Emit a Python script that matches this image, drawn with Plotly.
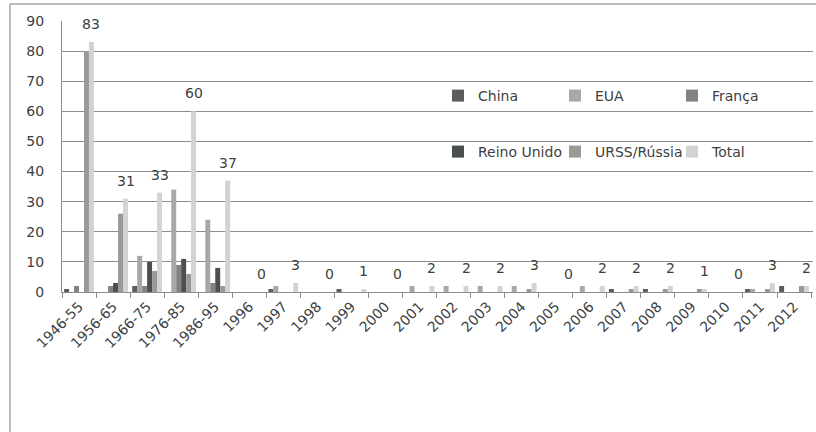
import plotly.graph_objects as go

# Nuclear tests per period / year, by country
categories = ["1946-55", "1956-65", "1966-75", "1976-85", "1986-95",
              "1996", "1997", "1998", "1999", "2000", "2001", "2002", "2003",
              "2004", "2005", "2006", "2007", "2008", "2009", "2010", "2011", "2012"]

china = [1, 0, 2, 0, 0, 0, 1, 0, 1, 0, 0, 0, 0, 0, 0, 0, 1, 1, 0, 0, 1, 2]
eua = [0, 0, 12, 34, 24, 0, 2, 0, 0, 0, 2, 2, 2, 2, 0, 2, 0, 0, 0, 0, 1, 0]
franca = [2, 2, 2, 9, 3, 0, 0, 0, 0, 0, 0, 0, 0, 0, 0, 0, 0, 0, 0, 0, 0, 0]
reino_unido = [0, 3, 10, 11, 8, 0, 0, 0, 0, 0, 0, 0, 0, 0, 0, 0, 0, 0, 0, 0, 0, 0]
urss_russia = [80, 26, 7, 6, 2, 0, 0, 0, 0, 0, 0, 0, 0, 1, 0, 0, 1, 1, 1, 0, 1, 2]
total = [83, 31, 33, 60, 37, 0, 3, 0, 1, 0, 2, 2, 2, 3, 0, 2, 2, 2, 1, 0, 3, 2]

y_ticks = [0, 10, 20, 30, 40, 50, 60, 70, 80, 90]

series = [
    ("China", china, "#5c5c5c", "legend"),
    ("EUA", eua, "#a8a8a8", "legend"),
    ("França", franca, "#828282", "legend"),
    ("Reino Unido", reino_unido, "#4a4f4f", "legend2"),
    ("URSS/Rússia", urss_russia, "#999999", "legend2"),
    ("Total", total, "#d3d3d3", "legend2"),
]

W, H = 816, 432
M_L, M_R, M_T, M_B = 62, 3, 21, 140
PW, PH = W - M_L - M_R, H - M_T - M_B
FONT = "DejaVu Sans"
TXT = "#404040"
GRID = "#8c8c8c"


def px_x(px):
    return (px - M_L) / PW


def px_y(py):
    return (H - M_B - py) / PH


fig = go.Figure()
for name, vals, color, lg in series:
    fig.add_trace(go.Bar(
        x=categories, y=vals, name=name, legend=lg,
        marker=dict(color=color, line=dict(width=0)),
    ))

# value labels above the Total bars (x given as category index)
bargap = 0.125
cat_px = PW / len(categories)
bar_px = cat_px * (1 - bargap) / len(series)
total_shift = bar_px * (len(series) - 1) / 2
for i, v in enumerate(total):
    fig.add_annotation(
        x=i, y=v, xref="x", yref="y", text=str(v), showarrow=False,
        xshift=total_shift, yshift=18, yanchor="middle",
        font=dict(family=FONT, size=14, color=TXT),
    )

# outer chart frame
fig.add_shape(
    type="rect", xref="paper", yref="paper",
    x0=px_x(10), x1=px_x(830), y0=px_y(445), y1=px_y(4),
    line=dict(color="#7a7a7a", width=1), fillcolor="rgba(0,0,0,0)", layer="below",
)

legend_common = dict(
    orientation="h", xref="paper", yref="paper",
    xanchor="left", yanchor="middle", bgcolor="rgba(0,0,0,0)",
    font=dict(family=FONT, size=14, color=TXT),
    entrywidth=72, entrywidthmode="pixels", itemwidth=30,
    traceorder="normal",
)

fig.update_layout(
    width=W, height=H,
    margin=dict(l=M_L, r=M_R, t=M_T, b=M_B, autoexpand=False),
    paper_bgcolor="white", plot_bgcolor="white",
    barmode="group", bargap=bargap, bargroupgap=0,
    font=dict(family=FONT, size=14, color=TXT),
    legend=dict(x=px_x(438), y=px_y(96), **legend_common),
    legend2=dict(x=px_x(438), y=px_y(152), **legend_common),
    xaxis=dict(
        type="category", tickangle=-45, tickson="boundaries",
        ticks="outside", ticklen=5, tickcolor=GRID,
        showline=True, linecolor=GRID, linewidth=1,
        showgrid=False, tickfont=dict(family=FONT, size=14, color=TXT),
    ),
    yaxis=dict(
        range=[0, 90], tickvals=y_ticks, showgrid=True, gridcolor=GRID,
        gridwidth=1, showline=True, linecolor=GRID, linewidth=1,
        zeroline=False, ticks="", ticklabelstandoff=14,
        tickfont=dict(family=FONT, size=14, color=TXT),
    ),
)

fig.write_html("out.html")
